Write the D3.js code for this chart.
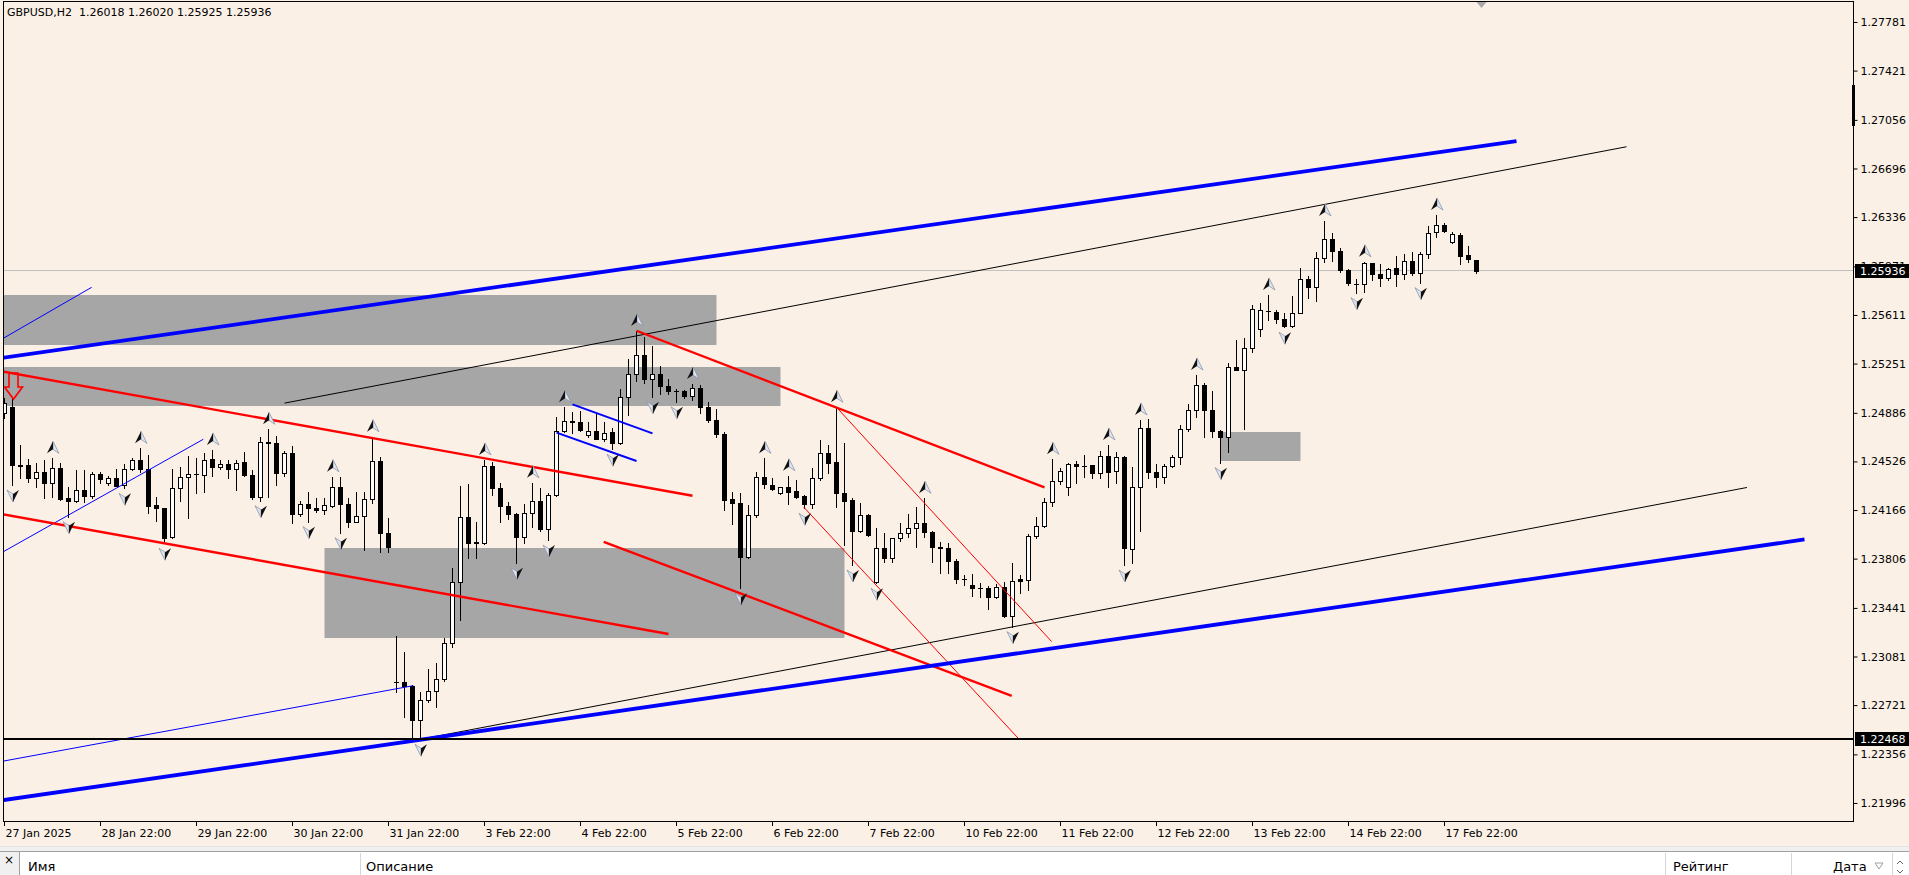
<!DOCTYPE html>
<html><head><meta charset="utf-8">
<script src="https://cdn.jsdelivr.net/npm/d3@7"></script>
<style>html,body{margin:0;padding:0;background:#faf0e6;overflow:hidden}svg{display:block}</style>
</head><body>
<svg id="c" width="1909" height="875"></svg>
<script>
// ---------------- DATA ----------------
const symbolTitle = "GBPUSD,H2";
const opens = [1.24885,1.24929,1.24500,1.24497,1.24401,1.24446,1.24364,1.24475,1.24255,1.24231,1.24314,1.24270,1.24433,1.24364,1.24405,1.24351,1.24468,1.24537,1.24472,1.24203,1.24179,1.23968,1.24327,1.24413,1.24435,1.24423,1.24542,1.24487,1.24505,1.24472,1.24520,1.24423,1.24260,1.24672,1.24665,1.24438,1.24591,1.24134,1.24208,1.24183,1.24166,1.24196,1.24339,1.24208,1.24080,1.24124,1.24246,1.24531,1.23994,1.22894,1.22890,1.22865,1.22611,1.22759,1.22826,1.22912,1.23183,1.23635,1.24112,1.23931,1.23924,1.24490,1.24327,1.24198,1.24134,1.23964,1.24142,1.24235,1.24025,1.24277,1.24751,1.24822,1.24818,1.24720,1.24751,1.24694,1.24746,1.24665,1.25005,1.25174,1.25314,1.25140,1.25171,1.25085,1.25050,1.25048,1.25011,1.25068,1.24931,1.24833,1.24729,1.24245,1.24221,1.23820,1.24130,1.24408,1.24355,1.24290,1.24334,1.24305,1.24268,1.24211,1.24405,1.24586,1.24520,1.24294,1.24238,1.24013,1.24130,1.23635,1.23883,1.23813,1.23957,1.23994,1.24031,1.24072,1.24005,1.23894,1.23883,1.23791,1.23655,1.23611,1.23586,1.23586,1.23524,1.23598,1.23381,1.23653,1.23645,1.23974,1.24045,1.24224,1.24378,1.24334,1.24505,1.24492,1.24500,1.24443,1.24566,1.24455,1.24557,1.23880,1.24334,1.24771,1.24450,1.24408,1.24494,1.24561,1.24764,1.24907,1.25092,1.24907,1.24750,1.24705,1.25228,1.25205,1.25364,1.25505,1.25642,1.25630,1.25579,1.25531,1.25628,1.25875,1.25816,1.26031,1.26171,1.26087,1.25944,1.25840,1.25840,1.25994,1.25912,1.25883,1.25957,1.25912,1.26013,1.25924,1.26060,1.26222,1.26277,1.26149,1.26203,1.26055,1.26018];
const highs = [1.24996,1.24988,1.24648,1.24542,1.24512,1.24537,1.24549,1.24512,1.24334,1.24462,1.24462,1.24450,1.24446,1.24418,1.24468,1.24505,1.24549,1.24623,1.24574,1.24265,1.24183,1.24468,1.24487,1.24566,1.24549,1.24586,1.24611,1.24537,1.24537,1.24537,1.24598,1.24462,1.24709,1.24764,1.24714,1.24603,1.24640,1.24233,1.24302,1.24253,1.24253,1.24413,1.24413,1.24253,1.24302,1.24302,1.24709,1.24557,1.24105,1.23233,1.23117,1.22870,1.22820,1.22986,1.23031,1.23216,1.23734,1.24344,1.24359,1.24080,1.24537,1.24524,1.24364,1.24228,1.24146,1.24208,1.24368,1.24331,1.24290,1.24853,1.24927,1.24894,1.24900,1.24820,1.24877,1.24816,1.24771,1.25060,1.25283,1.25492,1.25450,1.25381,1.25235,1.25134,1.25060,1.25055,1.25100,1.25092,1.24964,1.24912,1.24746,1.24302,1.24294,1.24203,1.24450,1.24549,1.24401,1.24336,1.24420,1.24388,1.24277,1.24475,1.24685,1.24648,1.24927,1.24660,1.24253,1.24216,1.24135,1.24031,1.23994,1.23960,1.24072,1.24134,1.24191,1.24253,1.24008,1.23931,1.23920,1.23800,1.23685,1.23692,1.23623,1.23603,1.23618,1.23635,1.23776,1.23685,1.23988,1.24117,1.24253,1.24542,1.24475,1.24512,1.24531,1.24574,1.24503,1.24605,1.24648,1.24598,1.24566,1.24487,1.24833,1.24838,1.24507,1.24507,1.24574,1.24796,1.24951,1.25166,1.25109,1.25048,1.24759,1.25253,1.25425,1.25438,1.25685,1.25697,1.25759,1.25648,1.25623,1.25751,1.25957,1.25900,1.26080,1.26307,1.26216,1.26105,1.25955,1.25875,1.26005,1.25999,1.25988,1.25957,1.26048,1.26062,1.26080,1.26075,1.26270,1.26351,1.26290,1.26228,1.26220,1.26122,1.26020];
const lows = [1.24848,1.24351,1.24403,1.24376,1.24334,1.24253,1.24265,1.24240,1.24117,1.24228,1.24228,1.24253,1.24364,1.24351,1.24344,1.24327,1.24462,1.24450,1.24142,1.24087,1.23920,1.23961,1.24235,1.24109,1.24290,1.24302,1.24418,1.24468,1.24401,1.24314,1.24418,1.24246,1.24235,1.24265,1.24351,1.24418,1.24068,1.24124,1.24080,1.24154,1.24134,1.24186,1.23998,1.24043,1.24075,1.23870,1.24216,1.23857,1.23857,1.22820,1.22635,1.22480,1.22468,1.22746,1.22709,1.22902,1.23154,1.23351,1.23808,1.23808,1.23915,1.24277,1.24080,1.24100,1.23776,1.23920,1.24043,1.24011,1.23944,1.24272,1.24746,1.24739,1.24755,1.24705,1.24690,1.24680,1.24616,1.24655,1.24870,1.25124,1.25109,1.25005,1.25025,1.25025,1.24968,1.24994,1.24981,1.24887,1.24820,1.24705,1.24166,1.24063,1.23586,1.23808,1.24117,1.24327,1.24314,1.24288,1.24211,1.24253,1.24179,1.24179,1.24388,1.24443,1.24191,1.23907,1.23759,1.24005,1.23974,1.23623,1.23783,1.23783,1.23939,1.23968,1.23894,1.23968,1.23783,1.23702,1.23698,1.23628,1.23611,1.23529,1.23524,1.23431,1.23512,1.23376,1.23302,1.23549,1.23574,1.23957,1.24040,1.24196,1.24359,1.24277,1.24368,1.24413,1.24401,1.24401,1.24339,1.24364,1.23759,1.23771,1.24013,1.24401,1.24339,1.24364,1.24488,1.24507,1.24754,1.24857,1.24709,1.24709,1.24517,1.24598,1.25200,1.24764,1.25339,1.25455,1.25574,1.25549,1.25520,1.25520,1.25625,1.25734,1.25717,1.26005,1.26013,1.25931,1.25833,1.25776,1.25783,1.25870,1.25825,1.25870,1.25827,1.25875,1.25907,1.25850,1.26031,1.26186,1.26228,1.26146,1.25988,1.26005,1.25925];
const closes = [1.24959,1.24500,1.24492,1.24401,1.24446,1.24364,1.24475,1.24250,1.24231,1.24314,1.24270,1.24433,1.24396,1.24405,1.24346,1.24468,1.24537,1.24472,1.24198,1.24179,1.23961,1.24327,1.24413,1.24435,1.24436,1.24537,1.24487,1.24505,1.24468,1.24512,1.24423,1.24260,1.24668,1.24665,1.24438,1.24591,1.24134,1.24208,1.24179,1.24166,1.24203,1.24339,1.24208,1.24080,1.24124,1.24246,1.24531,1.23994,1.23894,1.22890,1.22865,1.22611,1.22759,1.22826,1.22912,1.23183,1.23635,1.24112,1.23924,1.23924,1.24492,1.24327,1.24198,1.24134,1.23964,1.24142,1.24235,1.24025,1.24277,1.24751,1.24825,1.24818,1.24759,1.24751,1.24694,1.24739,1.24665,1.25005,1.25174,1.25314,1.25137,1.25171,1.25087,1.25050,1.25047,1.25011,1.25072,1.24931,1.24833,1.24729,1.24240,1.24216,1.23820,1.24130,1.24408,1.24357,1.24322,1.24334,1.24302,1.24265,1.24211,1.24405,1.24586,1.24517,1.24294,1.24235,1.24013,1.24130,1.23981,1.23883,1.23813,1.23957,1.23994,1.24031,1.24072,1.24005,1.23894,1.23883,1.23791,1.23655,1.23653,1.23586,1.23588,1.23520,1.23598,1.23381,1.23643,1.23643,1.23974,1.24048,1.24228,1.24381,1.24455,1.24507,1.24495,1.24490,1.24443,1.24566,1.24450,1.24561,1.23883,1.24334,1.24771,1.24450,1.24408,1.24494,1.24561,1.24764,1.24907,1.25092,1.24907,1.24754,1.24705,1.25228,1.25203,1.25364,1.25653,1.25648,1.25640,1.25579,1.25531,1.25628,1.25875,1.25816,1.26031,1.26171,1.26087,1.25944,1.25845,1.25838,1.25994,1.25914,1.25883,1.25949,1.25912,1.26013,1.25924,1.26060,1.26220,1.26277,1.26235,1.26211,1.26050,1.26025,1.25936];

const tickBars = [0,12,24,36,48,60,72,84,96,108,120,132,144,156,168,180];
const tickLabels = ["27 Jan 2025","28 Jan 22:00","29 Jan 22:00","30 Jan 22:00","31 Jan 22:00","3 Feb 22:00","4 Feb 22:00","5 Feb 22:00","6 Feb 22:00","7 Feb 22:00","10 Feb 22:00","11 Feb 22:00","12 Feb 22:00","13 Feb 22:00","14 Feb 22:00","17 Feb 22:00"];
const priceTicks = [1.27781,1.27421,1.27056,1.26696,1.26336,1.25971,1.25611,1.25251,1.24886,1.24526,1.24166,1.23806,1.23441,1.23081,1.22721,1.22356,1.21996];

const fractalUp = [6,17,26,33,41,46,60,66,70,79,86,95,98,104,115,131,138,142,149,158,165,170,179];
const fractalDown = [1,8,15,20,32,38,42,52,64,68,76,81,84,92,100,106,109,126,140,152,160,169,177];

// zones: [fromBar, toBar, lowPrice, highPrice]
const zones = [[-1,89,1.25388,1.25759],[-1,97,1.24937,1.25225],[40,105,1.23218,1.23885],[152,162,1.24529,1.24744]];
// trend lines: [bar1, price1, bar2, price2]
const blueThickLines = [[-1,1.25287,189,1.26899],[-1,1.22010,225,1.23948]];
const blackThinLines = [[35,1.24958,202.75,1.26857],[52,1.22468,217.8,1.24333]];
const blueThinLines = [[-1,1.22297,51.1,1.22865],[-1,1.25409,10.9,1.25816],[-1,1.23829,24.85,1.24690]];
const blueMediumLines = [[71,1.24949,81,1.24734],[69,1.24739,79,1.24529]];
const redThickLines = [[-1,1.25200,86,1.24272],[-1,1.24143,83,1.23248],[79,1.25494,130,1.24334],[74.9,1.23931,125.9,1.22790]];
const redThinLines = [[104,1.24927,130.9,1.23191],[99.9,1.24188,126.8,1.22470]];
const levelPrice = 1.22468;
const bidPrice = closes[closes.length-1];
const sellArrow = [1, 1.24988];
const panelHeaders = [["Имя",28],["Описание",366],["Рейтинг",1673],["Дата",1833]];

// ---------------- DRAW ----------------
const svg = d3.select('#c');
const FONT = "DejaVu Sans, Verdana, sans-serif";
const P = {l:3, t:2, r:1853, b:822};
const x = d3.scaleLinear().domain([0,1]).range([4.5,12.5]);
const y = d3.scaleLinear().domain([1.21870,1.27944]).range([820,0]);
const ry = v => Math.round(y(v));

svg.append('rect').attr('width',1909).attr('height',875).attr('fill','#faf0e6');

const defs = svg.append('defs');
defs.append('clipPath').attr('id','clip').append('rect')
  .attr('x',P.l+1).attr('y',P.t+1).attr('width',P.r-P.l-1).attr('height',P.b-P.t-1);
const g = svg.append('g').attr('clip-path','url(#clip)');

// zones
g.selectAll('rect.zone').data(zones).join('rect')
  .attr('x',d=>x(d[0])).attr('width',d=>x(d[1])-x(d[0]))
  .attr('y',d=>ry(d[3])).attr('height',d=>ry(d[2])-ry(d[3]))
  .attr('fill','#a6a6a6');

// bid line
g.append('line').attr('x1',P.l).attr('x2',P.r)
  .attr('y1',ry(bidPrice)-0.5).attr('y2',ry(bidPrice)-0.5)
  .attr('stroke','#c0c0c0').attr('stroke-width',1);

// candles
const idx = d3.range(opens.length);
const cg = g.append('g');
idx.forEach(i=>{
  const cx = x(i);
  cg.append('line').attr('x1',cx).attr('x2',cx)
    .attr('y1',ry(highs[i])).attr('y2',ry(lows[i])+1)
    .attr('stroke','#000').attr('stroke-width',1);
  const top = ry(Math.max(opens[i],closes[i])), bot = ry(Math.min(opens[i],closes[i]));
  const bull = closes[i] >= opens[i];
  if (bot - top < 1) {
    cg.append('line').attr('x1',cx-2.5).attr('x2',cx+2.5)
      .attr('y1',top+0.5).attr('y2',top+0.5).attr('stroke','#000');
  } else {
    cg.append('rect').attr('x',cx-2).attr('width',4)
      .attr('y',top+0.5).attr('height',bot-top)
      .attr('fill',bull?'#ffffff':'#000000').attr('stroke','#000').attr('stroke-width',1);
  }
});

// lines
function drawLines(data, color, width){
  g.append('g').selectAll('line').data(data).join('line')
    .attr('x1',d=>x(d[0])).attr('y1',d=>y(d[1]))
    .attr('x2',d=>x(d[2])).attr('y2',d=>y(d[3]))
    .attr('stroke',color).attr('stroke-width',width);
}
drawLines(blackThinLines,'#000000',1);
drawLines(blueThinLines,'#0000ff',1);
drawLines(blueMediumLines,'#0000ff',2);
drawLines(redThinLines,'#ff0000',1);
drawLines(redThickLines,'#ff0000',2.4);
drawLines(blueThickLines,'#0000ff',3.8);

// horizontal level
g.append('line').attr('x1',P.l).attr('x2',P.r)
  .attr('y1',ry(levelPrice)).attr('y2',ry(levelPrice))
  .attr('stroke','#000').attr('stroke-width',2);

// fractals
const fg = g.append('g');
fractalUp.forEach(i=>{
  const cx = x(i)+0.5, cy = y(highs[i]) - 11;
  fg.append('path').attr('d',`M${cx},${cy-6}L${cx+6},${cy+6}L${cx},${cy+2}Z`).attr('fill','#dfe6f2').attr('stroke','#8a96ab').attr('stroke-width',0.8);
  fg.append('path').attr('d',`M${cx},${cy-6}L${cx-6},${cy+6}L${cx},${cy+2}Z`).attr('fill','#111');
});
fractalDown.forEach(i=>{
  const cx = x(i)+0.5, cy = y(lows[i]) + 11;
  fg.append('path').attr('d',`M${cx},${cy+6}L${cx-6},${cy-6}L${cx},${cy-2}Z`).attr('fill','#dfe6f2').attr('stroke','#8a96ab').attr('stroke-width',0.8);
  fg.append('path').attr('d',`M${cx},${cy+6}L${cx+6},${cy-6}L${cx},${cy-2}Z`).attr('fill','#111');
});

// sell arrow
{
  const tx = x(sellArrow[0])+1, ty = y(sellArrow[1]);
  g.append('path')
    .attr('d',`M${tx-4.5},${ty-26}L${tx+4.5},${ty-26}L${tx+4.5},${ty-12}L${tx+9},${ty-12}L${tx},${ty}L${tx-9},${ty-12}L${tx-4.5},${ty-12}Z`)
    .attr('fill','none').attr('stroke','#ff0000').attr('stroke-width',1.6);
}

// header text
const last = opens.length-1;
svg.append('text').attr('x',7).attr('y',16).attr('font-family',FONT).attr('font-size',11).attr('fill','#000')
  .attr('xml:space','preserve')
  .text(`${symbolTitle}  ${opens[last].toFixed(5)} ${highs[last].toFixed(5)} ${lows[last].toFixed(5)} ${closes[last].toFixed(5)}`);

// frame
svg.append('rect').attr('x',P.l+0.5).attr('y',P.t-0.5).attr('width',P.r-P.l).attr('height',P.b-P.t)
  .attr('fill','none').attr('stroke','#000').attr('stroke-width',1);

// shift marker & scroll marker
const sx = x(last)+5;
svg.append('path').attr('d',`M${sx-5},${P.t}L${sx+5},${P.t}L${sx},${P.t+6}Z`).attr('fill','#a8a8a8');
svg.append('rect').attr('x',P.r-1).attr('y',85).attr('width',3).attr('height',41).attr('fill','#000');

// right axis
const yAxis = d3.axisRight(y).tickValues(priceTicks).tickFormat(d3.format('.5f')).tickSize(4).tickPadding(3);
const ya = svg.append('g').attr('transform',`translate(${P.r+0.5},0)`).call(yAxis);
ya.select('.domain').remove();
ya.selectAll('text').attr('font-family',FONT).attr('font-size',11).attr('fill','#000');
ya.selectAll('line').attr('stroke','#000');

// price boxes
[[bidPrice],[levelPrice]].forEach(([p])=>{
  const yy = y(p);
  svg.append('rect').attr('x',P.r+2).attr('y',Math.round(yy)-7).attr('width',1909-P.r-2).attr('height',14).attr('fill','#000');
  svg.append('text').attr('x',P.r+7).attr('y',Math.round(yy)+4).attr('font-family',FONT).attr('font-size',11)
    .attr('fill','#fff').text(p.toFixed(5));
});

// time axis
const xAxis = d3.axisBottom(x).tickValues(tickBars).tickFormat((d,i)=>tickLabels[i]).tickSize(4).tickPadding(3).offset(0);
const xa = svg.append('g').attr('transform',`translate(0,${P.b})`).call(xAxis);
xa.select('.domain').remove();
xa.selectAll('text').attr('text-anchor','start').attr('dx',1).attr('font-family',FONT).attr('font-size',11).attr('fill','#000');
xa.selectAll('line').attr('stroke','#000');

// bottom panel
svg.append('rect').attr('x',0).attr('y',846).attr('width',1909).attr('height',6).attr('fill','#f0f0f0');
svg.append('line').attr('x1',0).attr('x2',1909).attr('y1',846.5).attr('y2',846.5).attr('stroke','#e3e3e3');
svg.append('line').attr('x1',0).attr('x2',1909).attr('y1',851.5).attr('y2',851.5).attr('stroke','#a0a0a0');
svg.append('rect').attr('x',0).attr('y',852).attr('width',1909).attr('height',23).attr('fill','#ffffff');
svg.append('rect').attr('x',0).attr('y',852).attr('width',19).attr('height',23).attr('fill','#f0f0f0');
svg.append('line').attr('x1',19.5).attr('x2',19.5).attr('y1',852).attr('y2',875).attr('stroke','#a0a0a0');
svg.append('text').attr('x',4).attr('y',864).attr('font-family',FONT).attr('font-size',12).attr('fill','#000').text('×');
[360,1665,1791,1892].forEach(sx2=>{
  svg.append('line').attr('x1',sx2+0.5).attr('x2',sx2+0.5).attr('y1',853).attr('y2',875).attr('stroke','#d6d6d6');
});
panelHeaders.forEach(([t,px])=>{
  svg.append('text').attr('x',px).attr('y',871).attr('font-family',FONT).attr('font-size',13).attr('fill','#000').text(t);
});
svg.append('path').attr('d','M1875,863L1883,863L1879,869Z').attr('fill','none').attr('stroke','#a0a0a0');
svg.append('path').attr('d','M1897,864L1900,861L1903,864M1897,870L1900,873L1903,870').attr('fill','none').attr('stroke','#606060');
</script>
</body></html>
